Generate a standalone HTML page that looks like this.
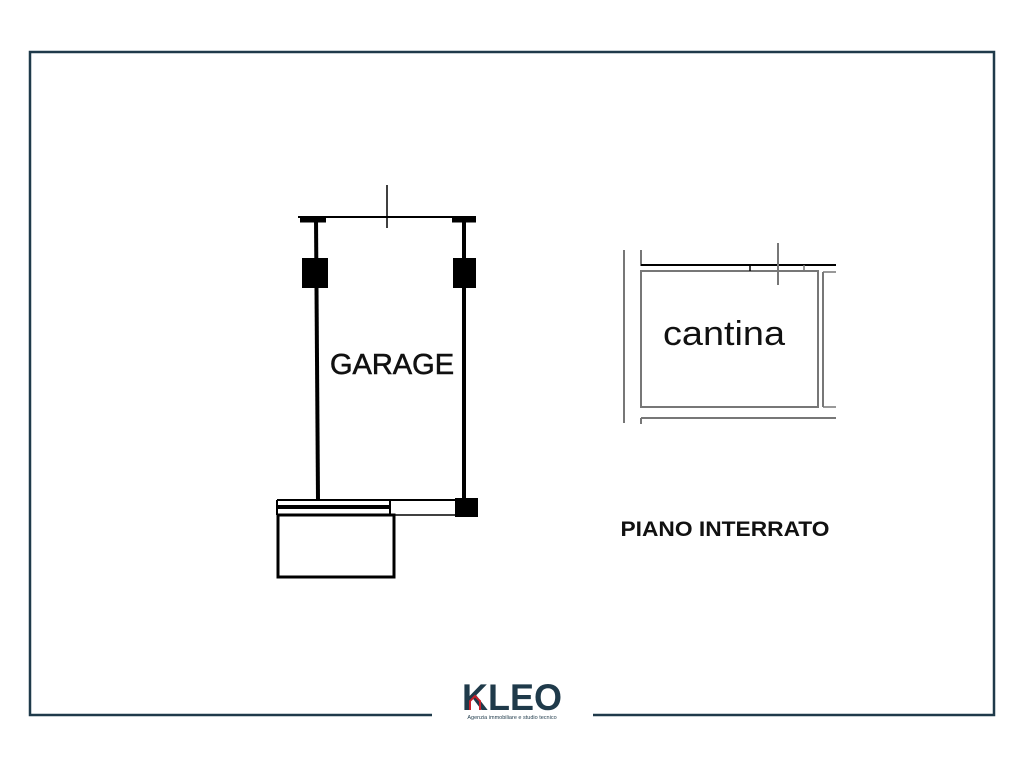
<!DOCTYPE html>
<html><head><style>body{margin:0;background:#fff}svg{display:block}</style></head><body>
<svg width="1024" height="768" viewBox="0 0 1024 768" xmlns="http://www.w3.org/2000/svg">
<rect width="1024" height="768" fill="#fff"/>
<path d="M432 715 H30 V52 H994 V715 H593" fill="none" stroke="#1f3a4a" stroke-width="2.5"/>
<!-- garage -->
<g stroke="#000" fill="none">
<line x1="298" y1="217" x2="476" y2="217" stroke-width="2"/>
<line x1="387" y1="185" x2="387" y2="228" stroke-width="1.5"/>
<line x1="300" y1="220" x2="326" y2="220" stroke-width="5"/>
<line x1="452" y1="220" x2="476" y2="220" stroke-width="5"/>
<line x1="316" y1="218" x2="318" y2="500" stroke-width="4"/>
<line x1="464" y1="218" x2="464" y2="500" stroke-width="4"/>
<line x1="277" y1="500" x2="478" y2="500" stroke-width="2"/>
<line x1="277" y1="507" x2="390" y2="507" stroke-width="4"/>
<line x1="390" y1="515" x2="455" y2="515" stroke-width="1.5"/>
<line x1="390" y1="500" x2="390" y2="515" stroke-width="2"/>
<line x1="277" y1="500" x2="277" y2="515" stroke-width="2"/>
<rect x="278" y="515" width="116" height="62" stroke-width="3"/>
</g>
<rect x="302" y="258" width="26" height="30" fill="#000"/>
<rect x="453" y="258" width="23" height="30" fill="#000"/>
<rect x="455" y="498" width="23" height="19" fill="#000"/>
<text x="392" y="374" font-family="Liberation Sans, sans-serif" font-size="29" text-anchor="middle" fill="#111" stroke="#111" stroke-width="0.6">GARAGE</text>
<!-- cantina -->
<g fill="none">
<line x1="624" y1="250" x2="624" y2="423" stroke="#777" stroke-width="2"/>
<line x1="641" y1="250" x2="641" y2="266" stroke="#777" stroke-width="2"/>
<line x1="641" y1="265" x2="836" y2="265" stroke="#000" stroke-width="2"/>
<rect x="641" y="271" width="177" height="136" stroke="#777" stroke-width="2"/>
<line x1="823" y1="272" x2="823" y2="407" stroke="#777" stroke-width="2"/>
<line x1="823" y1="272" x2="836" y2="272" stroke="#777" stroke-width="1.5"/>
<line x1="823" y1="407" x2="836" y2="407" stroke="#777" stroke-width="1.5"/>
<line x1="641" y1="418" x2="836" y2="418" stroke="#777" stroke-width="2"/>
<line x1="641" y1="418" x2="641" y2="424" stroke="#777" stroke-width="2"/>
<line x1="778" y1="243" x2="778" y2="285" stroke="#777" stroke-width="2"/>
<line x1="750" y1="265" x2="750" y2="271" stroke="#000" stroke-width="1.5"/>
<line x1="804" y1="265" x2="804" y2="271" stroke="#777" stroke-width="1.5"/>
</g>
<text x="724" y="345" font-family="Liberation Sans, sans-serif" font-size="34" text-anchor="middle" fill="#111" textLength="122" lengthAdjust="spacingAndGlyphs">cantina</text>
<text x="725" y="536" font-family="Liberation Sans, sans-serif" font-size="21" font-weight="bold" text-anchor="middle" fill="#111" textLength="209" lengthAdjust="spacingAndGlyphs">PIANO INTERRATO</text>
<!-- logo -->
<text x="512" y="710" font-family="Liberation Sans, sans-serif" font-size="37" font-weight="bold" text-anchor="middle" fill="#1f3a4a" textLength="100" lengthAdjust="spacingAndGlyphs">KLEO</text>
<path d="M470 710 V701 L475 696 L480 701 V710" fill="none" stroke="#c8202a" stroke-width="2"/>
<text x="512" y="719" font-family="Liberation Sans, sans-serif" font-size="5.5" text-anchor="middle" fill="#1f3a4a">Agenzia immobiliare e studio tecnico</text>
</svg>
</body></html>
